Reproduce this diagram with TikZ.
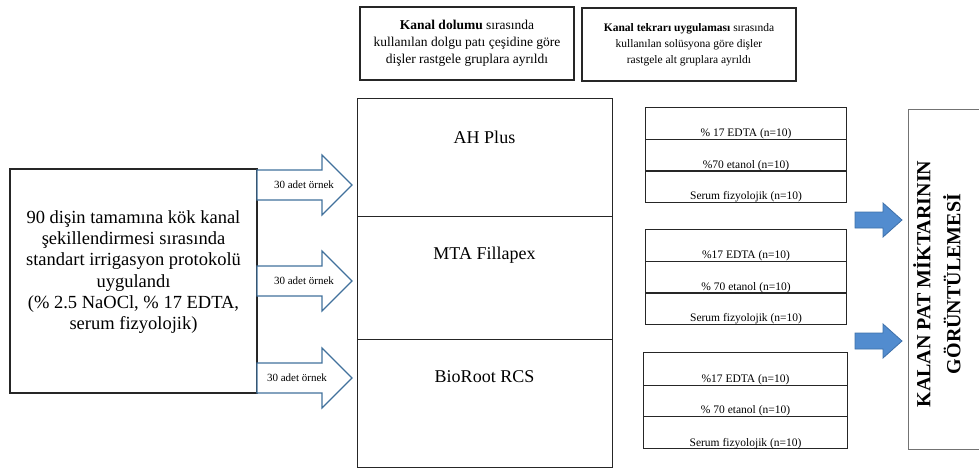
\documentclass[tikz,border=0pt]{standalone}
\usepackage{fontspec}
\setmainfont{Liberation Serif}
\definecolor{arrline}{RGB}{65,113,156}
\definecolor{arrfill}{RGB}{82,140,207}
\definecolor{arrdraw}{RGB}{62,112,170}
\begin{document}
\begin{tikzpicture}[x=1pt,y=-1pt,
  box/.style={draw=black!85, line width=1.3pt, inner sep=0pt},
  cell/.style={draw=black!85, line width=1.1pt, inner sep=0pt, anchor=north west, minimum height=32pt},
  celltext/.style={anchor=base, font=\fontsize{11.5}{13}\selectfont, inner sep=0pt},
  outarrow/.style={draw=arrline, line width=1.1pt, fill=white, line join=miter},
  fillarrow/.style={draw=arrdraw, line width=0.8pt, fill=arrfill},
  arrtext/.style={font=\fontsize{11}{13}\selectfont, inner sep=0pt},
  midtext/.style={font=\fontsize{18}{21}\selectfont, inner sep=0pt}]
\useasboundingbox (0,0) rectangle (979,471);

% header boxes
\node[box, minimum width=214pt, minimum height=73pt, align=center,
      font=\fontsize{13.5}{17}\selectfont] (hdr1) at (467,43.5)
  {\textbf{Kanal dolumu} sırasında\\kullanılan dolgu patı çeşidine göre\\dişler rastgele gruplara ayrıldı};
\node[box, minimum width=214pt, minimum height=73pt, align=center,
      font=\fontsize{11.5}{16}\selectfont] (hdr2) at (689,44.5)
  {\textbf{Kanal tekrarı uygulaması} sırasında\\kullanılan solüsyona göre dişler\\rastgele alt gruplara ayrıldı};

% left box
\node[box, minimum width=247pt, minimum height=224pt] (start) at (133.5,281) {};
\node[align=center, inner sep=0pt, font=\fontsize{18.5}{21.2}\selectfont] (starttext) at (133.5,272)
  {90 dişin tamamına kök kanal\\şekillendirmesi sırasında\\standart irrigasyon protokolü\\uygulandı\\(\% 2.5 NaOCl, \% 17 EDTA,\\serum fizyolojik)};

% middle column
\node[box, anchor=north west, minimum width=255pt, minimum height=118pt] (ah) at (357,98) {};
\node[box, anchor=north west, minimum width=255pt, minimum height=123pt] (mta) at (357,216) {};
\node[box, anchor=north west, minimum width=255pt, minimum height=128pt] (bio) at (357,339) {};
\node[midtext] (ahtext) at (484.5,137) {AH Plus};
\node[midtext] (mtatext) at (484.5,255) {MTA Fillapex};
\node[midtext] (biotext) at (484.5,377) {BioRoot RCS};

% outline arrows
\foreach \cy/\tx/\nm in {185/304/a, 281/304/b, 378/297/c}{
  \draw[outarrow] (257,\cy-15) -- (322,\cy-15) -- (322,\cy-30) -- (352,\cy)
     -- (322,\cy+30) -- (322,\cy+15) -- (257,\cy+15) -- cycle;
  \node[arrtext] (arr\nm) at (\tx,\cy) {30 adet örnek};
}

% sub-group cells
\node[cell, minimum width=201pt] (g1a) at (645,107) {};
\node[cell, minimum width=201pt] (g1b) at (645,139) {};
\node[cell, minimum width=201pt] (g1c) at (645,170) {};
\node[celltext] (t1a) at ([yshift=4pt]g1a.south) {\% 17 EDTA (n=10)};
\node[celltext] (t1b) at ([yshift=4pt]g1b.south) {\%70 etanol (n=10)};
\node[celltext] (t1c) at ([yshift=4pt]g1c.south) {Serum fizyolojik (n=10)};

\node[cell, minimum width=201pt] (g2a) at (645,229) {};
\node[cell, minimum width=201pt] (g2b) at (645,261) {};
\node[cell, minimum width=201pt] (g2c) at (645,292) {};
\node[celltext] (t2a) at ([yshift=4pt]g2a.south) {\%17 EDTA (n=10)};
\node[celltext] (t2b) at ([yshift=4pt]g2b.south) {\% 70 etanol (n=10)};
\node[celltext] (t2c) at ([yshift=4pt]g2c.south) {Serum fizyolojik (n=10)};

\node[cell, minimum width=204pt, minimum height=33pt] (g3a) at (643,352) {};
\node[cell, minimum width=204pt, minimum height=31pt] (g3b) at (643,385) {};
\node[cell, minimum width=204pt, minimum height=32pt] (g3c) at (643,416) {};
\node[celltext] (t3a) at ([yshift=4pt]g3a.south) {\%17 EDTA (n=10)};
\node[celltext] (t3b) at ([yshift=4pt]g3b.south) {\% 70 etanol (n=10)};
\node[celltext] (t3c) at ([yshift=3pt]g3c.south) {Serum fizyolojik (n=10)};

% filled arrows
\foreach \cy in {220,341}{
  \draw[fillarrow] (855,\cy-8) -- (883,\cy-8) -- (883,\cy-17) -- (902,\cy)
     -- (883,\cy+17) -- (883,\cy+8) -- (855,\cy+8) -- cycle;
}

% result box
\draw[draw=black!55, line width=1pt] (985,109) -- (908,109) -- (908,449) -- (985,449);
\node[rotate=90, align=center, inner sep=0pt, font=\fontsize{20}{30}\selectfont\bfseries] (result) at (937,284)
  {KALAN PAT MİKTARININ\\GÖRÜNTÜLEMESİ};
\end{tikzpicture}
\end{document}
